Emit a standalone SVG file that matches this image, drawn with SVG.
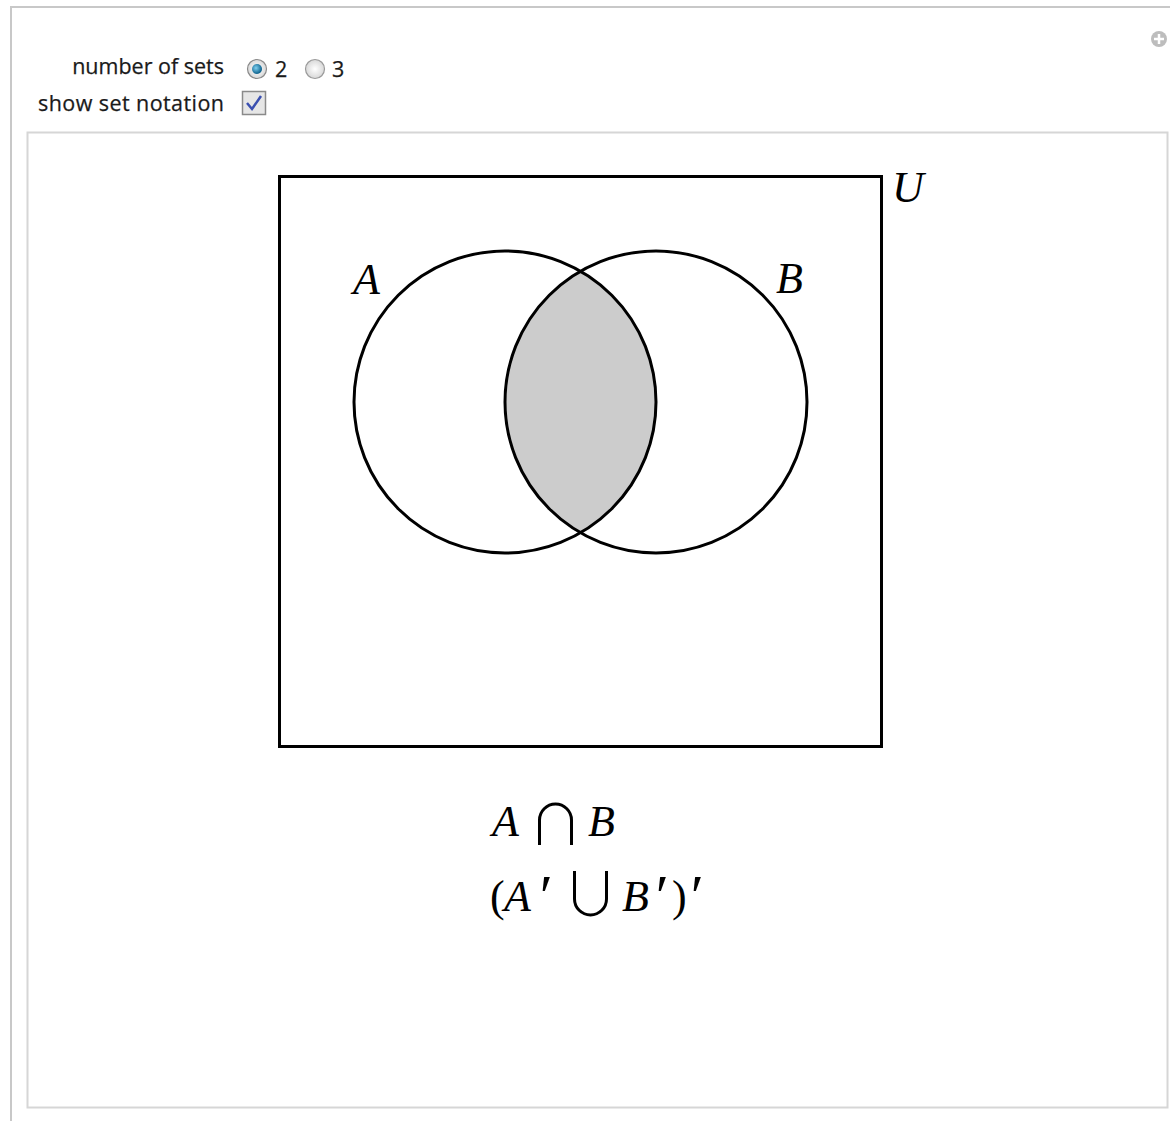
<svg xmlns="http://www.w3.org/2000/svg" width="1170" height="1121" viewBox="0 0 1170 1121">
<defs>
<style>
.ui{font-family:"Open Sans","DejaVu Sans",sans-serif;font-size:21.5px;fill:#1a1a1a;stroke:#1a1a1a;stroke-width:0.25}
.math{font-family:"Liberation Serif","Times New Roman",serif;font-style:italic;font-size:44px;fill:#000}
.mathr{font-family:"Liberation Serif","Times New Roman",serif;font-size:44px;fill:#000}
.pr{font-family:"Liberation Serif","Times New Roman",serif;font-style:italic;font-size:60px;fill:#000}
.ln{fill:none;stroke:#000;stroke-width:3}
</style>
<radialGradient id="rg" cx="0.4" cy="0.4" r="0.6">
<stop offset="0" stop-color="#7fd0f0"/><stop offset="1" stop-color="#0a5f8a"/>
</radialGradient>
<radialGradient id="rg2" cx="0.5" cy="0.5" r="0.6">
<stop offset="0" stop-color="#ffffff"/><stop offset="1" stop-color="#d0d0d0"/>
</radialGradient>
<clipPath id="clipA"><circle cx="505" cy="402" r="151"/></clipPath>
</defs>
<rect width="1170" height="1121" fill="#fff"/>
<g id="panel">
<path d="M11 1121 V7 H1170" fill="none" stroke="#c8c8c8" stroke-width="2"/>
<rect x="27.5" y="132.5" width="1140" height="975" fill="#fff" stroke="#d6d6d6" stroke-width="2"/>
<circle cx="1159" cy="39" r="8" fill="#bdbdbd"/>
<path d="M1159 34 V44 M1154 39 H1164" stroke="#fff" stroke-width="2.5"/>
</g>
<g id="controls">
<text class="ui" x="224" y="74" text-anchor="end">number of sets</text>
<circle cx="257" cy="69" r="9.5" fill="url(#rg2)" stroke="#8a8a8a" stroke-width="1.2"/>
<circle cx="257" cy="69" r="5" fill="url(#rg)"/>
<text class="ui" x="275" y="77">2</text>
<circle cx="315" cy="69" r="9.5" fill="url(#rg2)" stroke="#9a9a9a" stroke-width="1.2"/>
<text class="ui" x="332" y="77">3</text>
<text class="ui" x="224" y="111" text-anchor="end" textLength="186">show set notation</text>
<rect x="242.5" y="91.5" width="23" height="23" fill="#e6e6e6" stroke="#8a8a8a" stroke-width="1.5"/>
<path d="M247 103 L252 109 L261 96" fill="none" stroke="#3a4fb0" stroke-width="2.5"/>
</g>
<g id="venn">
<rect class="ln" x="279.5" y="176.5" width="602" height="570"/>
<circle cx="656" cy="402" r="151" fill="#cccccc" clip-path="url(#clipA)"/>
<circle class="ln" cx="505" cy="402" r="151"/>
<circle class="ln" cx="656" cy="402" r="151"/>
<text class="math" x="353" y="294">A</text>
<text class="math" x="776" y="293">B</text>
<text class="math" x="892" y="202">U</text>
</g>
<g id="notation">
<text class="math" x="492" y="836">A</text>
<path d="M539.5 845 V820 A16 16 0 0 1 571.5 820 V845" fill="none" stroke="#000" stroke-width="3"/>
<text class="math" x="588" y="836">B</text>
<text class="mathr" x="490" y="911">(</text>
<text class="math" x="504" y="911">A</text>
<text class="pr" x="536" y="916">′</text>
<path d="M574.5 871 V899 A16 16 0 0 0 606.5 899 V871" fill="none" stroke="#000" stroke-width="3"/>
<text class="math" x="622" y="911">B</text>
<text class="pr" x="652" y="916">′</text>
<text class="mathr" x="672" y="911">)</text>
<text class="pr" x="687" y="916">′</text>
</g>
</svg>
